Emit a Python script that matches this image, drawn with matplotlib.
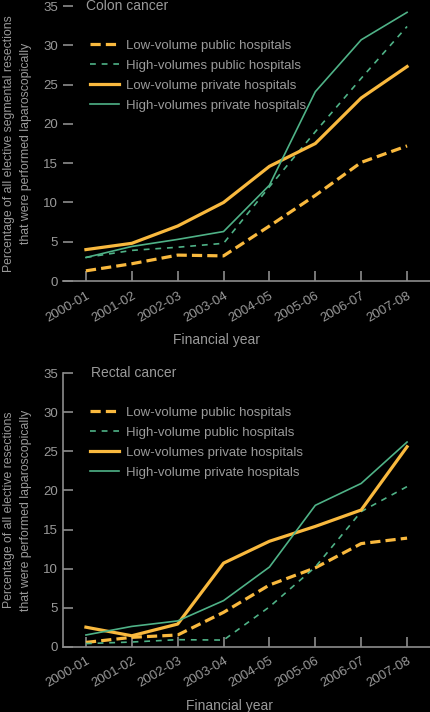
import matplotlib
matplotlib.use("Agg")
import matplotlib.pyplot as plt
from matplotlib import font_manager

years = ["2000-01", "2001-02", "2002-03", "2003-04", "2004-05", "2005-06", "2006-07", "2007-08"]

colon_lv_public = [1.3, 2.2, 3.3, 3.2, 7.0, 10.9, 15.1, 17.2]
colon_hv_public = [3.0, 3.9, 4.3, 4.8, 12.0, 19.0, 25.8, 32.4]
colon_lv_private = [4.0, 4.8, 7.0, 10.0, 14.6, 17.5, 23.3, 27.3]
colon_hv_private = [3.0, 4.4, 5.3, 6.3, 12.2, 24.1, 30.7, 34.2]

rectal_lv_public = [0.55, 1.2, 1.5, 4.4, 7.9, 10.1, 13.2, 13.9]
rectal_hv_public = [0.4, 0.6, 0.9, 0.85, 5.1, 10.2, 17.3, 20.5]
rectal_lv_private = [2.5, 1.4, 2.9, 10.7, 13.5, 15.4, 17.5, 25.6]
rectal_hv_private = [1.5, 2.6, 3.3, 5.9, 10.2, 18.1, 20.9, 26.2]

colon_labels = ["Low-volume public hospitals", "High-volumes public hospitals",
                "Low-volume private hospitals", "High-volumes private hospitals"]
rectal_labels = ["Low-volume public hospitals", "High-volume public hospitals",
                 "Low-volumes private hospitals", "High-volume private hospitals"]

avail = {f.name for f in font_manager.fontManager.ttflist}
fam = ["Liberation Sans Narrow"] if "Liberation Sans Narrow" in avail else ["Liberation Sans"]
plt.rcParams["font.family"] = fam + ["DejaVu Sans"]

BG = "black"
TXT = "#9a9a9a"
AX = "#8c8c8c"
ORANGE = "#f9b93e"
GREEN = "#4fb287"

fig = plt.figure(figsize=(4.3, 7.12), dpi=100, facecolor=BG)

def panel(rect, series, labels, title, ylabel, show_left, title_x, xlabel_x):
    ax = fig.add_axes(rect, facecolor=BG)
    x = list(range(len(years)))
    styles = [
        dict(color=ORANGE, lw=2.3, ls=(0, (3.2, 1.6))),
        dict(color=GREEN, lw=1.2, ls=(0, (3.5, 3.5))),
        dict(color=ORANGE, lw=2.3, ls="-"),
        dict(color=GREEN, lw=1.2, ls="-"),
    ]
    for s, lab, st in zip(series, labels, styles):
        ax.plot(x, s, label=lab, **st)
    ax.set_xlim(-0.5, 7.5)
    ax.set_ylim(0, 35)
    ax.set_yticks(range(0, 36, 5))
    ax.set_xticks(x)
    ax.set_xticklabels(years, rotation=30, ha="right", rotation_mode="anchor")
    for sp in ["top", "right"]:
        ax.spines[sp].set_visible(False)
    ax.spines["left"].set_visible(show_left)
    ax.spines["left"].set_color(AX)
    ax.spines["bottom"].set_color(AX)
    ax.spines["left"].set_linewidth(1.2)
    ax.spines["bottom"].set_linewidth(1.2)
    ax.tick_params(axis="both", direction="in", length=7, width=1.2, color=AX,
                   labelcolor=TXT, labelsize=9.5)
    ax.tick_params(axis="y", pad=3.6)
    ax.tick_params(axis="x", pad=6)
    ax.text(title_x, 35, title, color=TXT, fontsize=10, ha="left", va="center")
    ax.set_ylabel(ylabel, color=TXT, fontsize=8.8, linespacing=1.5)
    ax.yaxis.set_label_coords(-0.085, 0.5)
    ax.set_xlabel("Financial year", color=TXT, fontsize=10)
    ax.xaxis.set_label_coords(xlabel_x, -0.19)
    leg = ax.legend(loc="upper left", bbox_to_anchor=(0.0736, 0.879), frameon=False,
                    fontsize=9.5, handlelength=2.2, handletextpad=0.5,
                    labelspacing=0.6, borderaxespad=0, borderpad=0)
    for t in leg.get_texts():
        t.set_color(TXT)
    return ax

panel([0.1465, 0.6053, 0.8535, 0.3862],
      [colon_lv_public, colon_hv_public, colon_lv_private, colon_hv_private],
      colon_labels, "Colon cancer",
      "Percentage of all elective segmental resections\nthat were performed laparoscopically",
      False, 0.0, 0.417)

panel([0.1465, 0.0917, 0.8535, 0.384],
      [rectal_lv_public, rectal_hv_public, rectal_lv_private, rectal_hv_private],
      rectal_labels, "Rectal cancer",
      "Percentage of all elective resections\nthat were performed laparoscopically",
      True, 0.12, 0.455)

fig.savefig("out.png", dpi=100, facecolor=BG)
